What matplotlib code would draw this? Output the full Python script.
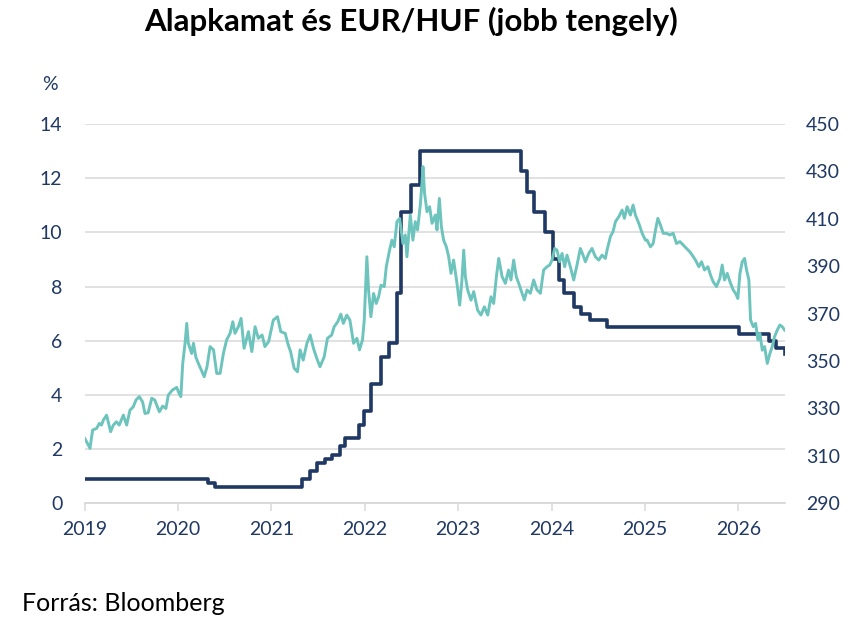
import matplotlib
matplotlib.use("Agg")
import matplotlib.pyplot as plt

# Alapkamat (%), lépcsős: változás időpontja (év) és új szint
rate_t = [2019.0, 2020.325, 2020.397, 2021.325, 2021.408, 2021.486, 2021.576, 2021.647,
          2021.729, 2021.79, 2021.933, 2021.994, 2022.069, 2022.172, 2022.261, 2022.340,
          2022.384, 2022.497, 2022.590, 2023.67, 2023.74, 2023.808, 2023.926, 2024.015,
          2024.076, 2024.137, 2024.237, 2024.316, 2024.416, 2024.594, 2026.005, 2026.327,
          2026.40, 2026.496, 2026.5]
rate_v = [0.9, 0.75, 0.6, 0.9, 1.2, 1.5, 1.65, 1.8,
          2.1, 2.4, 2.9, 3.4, 4.4, 5.4, 5.9, 7.75,
          10.75, 11.75, 13.0, 12.25, 11.5, 10.75, 10.0, 9.0,
          8.25, 7.75, 7.25, 7.0, 6.75, 6.5, 6.25, 6.0,
          5.75, 5.5, 5.5]

# EUR/HUF (jobb tengely)
fx_t = [2018.99, 2019.02, 2019.057, 2019.085, 2019.128, 2019.157, 2019.18, 2019.20, 2019.235,
        2019.278, 2019.307, 2019.34, 2019.37, 2019.414, 2019.45, 2019.485, 2019.52, 2019.55,
        2019.585, 2019.62, 2019.646, 2019.68, 2019.718, 2019.75, 2019.80, 2019.835, 2019.87,
        2019.896, 2019.94, 2019.986, 2020.01, 2020.03, 2020.05, 2020.075, 2020.093, 2020.11,
        2020.146, 2020.165, 2020.19, 2020.21, 2020.28, 2020.31, 2020.343, 2020.38, 2020.414,
        2020.45, 2020.486, 2020.52, 2020.557, 2020.586, 2020.61, 2020.646, 2020.675, 2020.707,
        2020.754, 2020.79, 2020.825, 2020.86, 2020.90, 2020.93, 2020.97, 2021.02, 2021.065,
        2021.10, 2021.147, 2021.18, 2021.205, 2021.243, 2021.279, 2021.307, 2021.34, 2021.38,
        2021.415, 2021.45, 2021.486, 2021.52, 2021.565, 2021.60, 2021.645, 2021.672, 2021.71,
        2021.743, 2021.77, 2021.807, 2021.84, 2021.88, 2021.915, 2021.943, 2021.975, 2021.994,
        2022.022, 2022.04, 2022.065, 2022.094, 2022.122, 2022.148, 2022.173, 2022.208, 2022.23,
        2022.265, 2022.29, 2022.315, 2022.344, 2022.373, 2022.408, 2022.433, 2022.451, 2022.487,
        2022.515, 2022.54, 2022.565, 2022.594, 2022.612, 2022.623, 2022.64, 2022.666, 2022.694,
        2022.72, 2022.755, 2022.773, 2022.798, 2022.82, 2022.844, 2022.873, 2022.898, 2022.923,
        2022.951, 2022.987, 2023.016, 2023.04, 2023.059, 2023.077, 2023.101, 2023.137, 2023.166,
        2023.208, 2023.244, 2023.28, 2023.316, 2023.351, 2023.38, 2023.409, 2023.434, 2023.47,
        2023.505, 2023.54, 2023.565, 2023.594, 2023.622, 2023.648, 2023.672, 2023.708, 2023.737,
        2023.773, 2023.808, 2023.844, 2023.88, 2023.915, 2023.951, 2023.98, 2024.005, 2024.033,
        2024.058, 2024.087, 2024.112, 2024.14, 2024.165, 2024.201, 2024.237, 2024.272, 2024.308,
        2024.337, 2024.362, 2024.398, 2024.433, 2024.469, 2024.505, 2024.54, 2024.576, 2024.594,
        2024.63, 2024.658, 2024.684, 2024.72, 2024.755, 2024.78, 2024.809, 2024.844, 2024.873,
        2024.898, 2024.934, 2024.97, 2025.005, 2025.023, 2025.059, 2025.088, 2025.113, 2025.138,
        2025.166, 2025.195, 2025.23, 2025.266, 2025.302, 2025.338, 2025.374, 2025.41, 2025.445,
        2025.48, 2025.506, 2025.541, 2025.577, 2025.606, 2025.638, 2025.674, 2025.702, 2025.73,
        2025.766, 2025.802, 2025.827, 2025.852, 2025.881, 2025.91, 2025.945, 2025.97, 2025.995,
        2026.017, 2026.042, 2026.067, 2026.088, 2026.113, 2026.131, 2026.16, 2026.185, 2026.21,
        2026.231, 2026.256, 2026.281, 2026.31, 2026.338, 2026.363, 2026.388, 2026.417, 2026.445,
        2026.47, 2026.495]
fx_v = [318.1, 316.0, 313.2, 320.9, 321.6, 323.7, 323.0, 325.1, 327.2,
        320.2, 323.0, 324.4, 323.0, 327.2, 323.0, 329.3, 330.7, 333.6,
        335.0, 332.8, 327.9, 328.2, 334.3, 333.6, 328.6, 331.0, 330.0,
        335.7, 337.8, 338.9, 336.4, 335.0, 349.0, 357.5, 365.9, 357.5,
        353.2, 357.5, 351.8, 349.7, 343.4, 347.6, 356.1, 354.7, 344.8,
        344.8, 353.3, 358.9, 361.7, 366.6, 361.7, 364.5, 368.0, 355.4,
        362.4, 354.0, 364.5, 359.6, 361.0, 356.1, 358.2, 367.3, 368.7,
        362.4, 361.7, 356.8, 354.0, 347.0, 345.5, 354.7, 350.4, 357.5,
        361.0, 355.4, 351.1, 347.6, 351.8, 359.6, 361.0, 364.5, 366.6,
        369.8, 365.9, 369.4, 367.3, 357.5, 359.6, 354.7, 358.9, 367.3,
        394.0, 380.0, 368.7, 378.5, 374.3, 377.1, 382.0, 381.4, 389.8,
        396.8, 401.0, 398.2, 408.8, 410.2, 399.6, 403.2, 394.0, 411.6,
        401.0, 408.8, 405.3, 415.8, 425.0, 432.0, 420.7, 413.0, 415.1,
        408.1, 411.6, 405.3, 418.6, 406.7, 401.0, 398.2, 394.0, 387.0,
        392.6, 382.8, 373.6, 384.2, 396.8, 385.6, 380.0, 375.7, 379.3,
        371.5, 369.4, 372.9, 369.4, 377.1, 374.3, 385.6, 393.3, 385.6,
        382.8, 388.4, 384.2, 392.6, 385.6, 382.8, 380.0, 375.8, 380.0,
        378.6, 384.2, 380.0, 378.6, 388.4, 389.8, 390.5, 392.6, 397.5,
        396.8, 391.9, 395.4, 389.8, 394.7, 389.8, 384.2, 390.5, 397.5,
        394.7, 391.9, 395.4, 397.5, 394.0, 392.6, 394.7, 393.3, 396.8,
        402.5, 404.6, 408.8, 410.9, 413.7, 410.2, 415.1, 411.6, 415.8,
        411.6, 408.1, 403.9, 401.0, 401.0, 398.2, 399.6, 405.3, 410.2,
        407.4, 403.9, 403.9, 403.2, 403.9, 399.6, 400.4, 398.9, 397.5,
        396.1, 394.7, 392.6, 389.8, 391.9, 388.4, 389.8, 386.3, 383.5,
        381.4, 384.9, 390.5, 384.2, 387.0, 383.5, 380.0, 378.6, 376.4,
        387.0, 391.9, 393.3, 388.4, 384.2, 367.3, 364.5, 365.9, 358.9,
        361.7, 354.6, 356.1, 349.0, 353.2, 356.1, 360.3, 363.1, 365.2,
        364.5, 363.1]

years = list(range(2019, 2027))
left_ticks = [0, 2, 4, 6, 8, 10, 12, 14]
right_ticks = [290, 310, 330, 350, 370, 390, 410, 430, 450]

NAVY = "#1f3864"
TEAL = "#6cc4bd"
GRID = "#d9d9d9"

plt.rcParams["font.family"] = ["Lato", "DejaVu Sans"]

fig = plt.figure(figsize=(8.64, 6.25), dpi=100)
ax = fig.add_axes([0.098, 0.1947, 0.8106, 0.6069])
ax2 = ax.twinx()

ax.plot(rate_t, rate_v, drawstyle="steps-post", color=NAVY, lw=2.6, zorder=3)
ax2.plot(fx_t, fx_v, color=TEAL, lw=2.1, zorder=4)

ax.set_xlim(2019, 2026.5)
ax.set_ylim(0, 14)
ax2.set_ylim(290, 450)
ax.set_yticks(left_ticks)
ax2.set_yticks(right_ticks)
ax.set_xticks(years)
ax.set_xticklabels([str(y) for y in years])

ax.grid(axis="y", color=GRID, lw=1.1)
ax.set_axisbelow(True)
for a in (ax, ax2):
    for s in ("top", "left", "right"):
        a.spines[s].set_visible(False)
    a.spines["bottom"].set_color(GRID)
    a.spines["bottom"].set_linewidth(1.1)

ax.tick_params(axis="y", length=0, pad=16, labelsize=14, labelcolor=NAVY)
ax2.tick_params(axis="y", length=0, pad=15, labelsize=14, labelcolor=NAVY)
ax.tick_params(axis="x", length=6, width=1.1, color=GRID, pad=7,
               labelsize=14, labelcolor=NAVY)

fig.text(0.476, 0.965, "Alapkamat és EUR/HUF (jobb tengely)", ha="center", va="center",
         fontsize=22.5, fontweight="bold", color="black")
fig.text(0.058, 0.864, "%", ha="center", va="center", fontsize=14, color=NAVY)
fig.text(0.025, 0.034, "Forrás: Bloomberg", ha="left", va="center", fontsize=18,
         color="black")

fig.savefig("out.png", dpi=100)
